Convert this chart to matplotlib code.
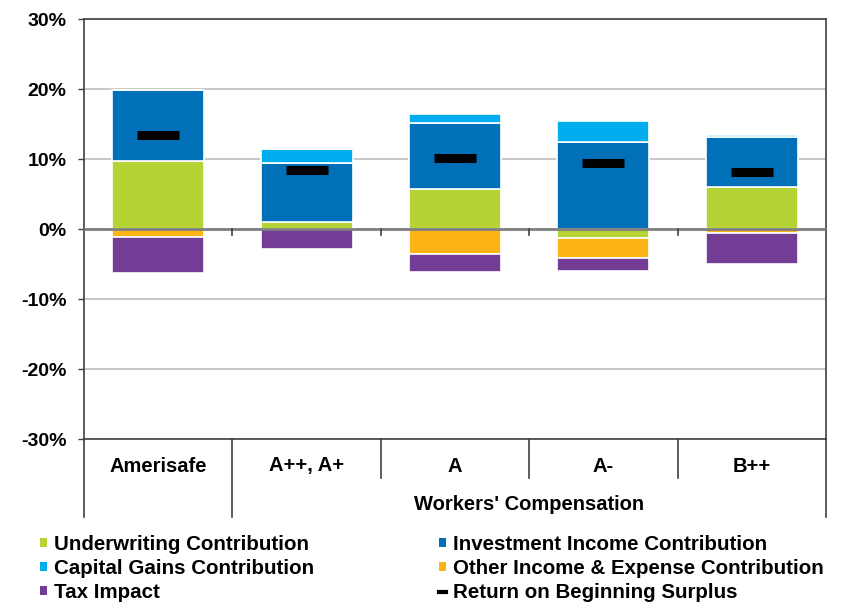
import matplotlib
matplotlib.use("Agg")
import matplotlib.pyplot as plt
import numpy as np
from matplotlib.patches import Patch
from matplotlib.lines import Line2D
import matplotlib.transforms as mtransforms

plt.rcParams['font.family'] = ['Liberation Sans', 'DejaVu Sans']
plt.rcParams['font.weight'] = 'bold'

categories = ["Amerisafe", "A++, A+", "A", "A-", "B++"]
group_label = "Workers' Compensation"

underwriting = [9.7, 1.0, 5.7, -1.3, 6.0]
investment = [10.1, 8.4, 9.5, 12.5, 7.2]
capital_gains = [0.0, 2.0, 1.3, 2.9, 0.2]
other_income = [-1.1, 0.0, -3.5, -2.8, -0.5]
tax_impact = [-5.2, -2.85, -2.7, -1.9, -4.5]
return_surplus = [13.4, 8.5, 10.2, 9.4, 8.2]

yticks = [-30, -20, -10, 0, 10, 20, 30]
ytick_labels = ["-30%", "-20%", "-10%", "0%", "10%", "20%", "30%"]

series = [
    ("Underwriting Contribution", underwriting, "#B5D334"),
    ("Investment Income Contribution", investment, "#0070B9"),
    ("Capital Gains Contribution", capital_gains, "#00AEEF"),
    ("Other Income & Expense Contribution", other_income, "#FDB515"),
    ("Tax Impact", tax_impact, "#743D95"),
]

W, H = 842, 604
fig = plt.figure(figsize=(W / 100, H / 100), dpi=100)
ax = fig.add_axes([84 / W, (H - 439) / H, 742 / W, 420 / H])

x = np.arange(len(categories))
pos_bottom = np.zeros(len(categories))
neg_bottom = np.zeros(len(categories))
for name, vals, col in series:
    vals = np.array(vals, dtype=float)
    bottoms = np.where(vals >= 0, pos_bottom, neg_bottom)
    ax.bar(x, vals, bottom=bottoms, width=0.62, color=col,
           edgecolor="white", linewidth=1.2, zorder=3)
    pos_bottom = pos_bottom + np.where(vals > 0, vals, 0)
    neg_bottom = neg_bottom + np.where(vals < 0, vals, 0)

ax.plot(x, return_surplus, linestyle="none", marker="_", markersize=30,
        markeredgewidth=6.5, color="black", zorder=5)

ax.set_xlim(-0.5, len(categories) - 0.5)
ax.set_ylim(-30, 30)
ax.set_yticks(yticks)
ax.set_yticklabels(ytick_labels, fontsize=14, fontweight="bold")
ax.tick_params(axis="y", length=4.5, width=1, color="#404040", pad=8)
ax.set_xticks([])
ax.grid(axis="y", color="#BFBFBF", linewidth=1.2, zorder=0)
ax.axhline(0, color="#7F7F7F", linewidth=2, zorder=4)
for sp in ax.spines.values():
    sp.set_color("#404040")
    sp.set_linewidth(1.2)

# category tick marks on zero line
for b in np.arange(0.5, len(categories) - 0.5, 1.0):
    ax.plot([b, b], [0, -0.8], color="#404040", linewidth=1.2, zorder=4)

# category labels and group separators
trans = mtransforms.blended_transform_factory(ax.transData, ax.transAxes)
short_end = (439 - 478) / 420
long_end = (439 - 517) / 420
for i, c in enumerate(categories):
    ax.text(i, (439 - 466) / 420, c, transform=trans, ha="center", va="center",
            fontsize=14.5, fontweight="bold")
ax.text(np.mean(x[1:]), (439 - 504) / 420, group_label, transform=trans,
        ha="center", va="center", fontsize=14.5, fontweight="bold")
for b in [-0.5, 0.5, len(categories) - 0.5]:
    ax.plot([b, b], [0, long_end], transform=trans, color="#404040",
            linewidth=1.2, clip_on=False)
for b in np.arange(1.5, len(categories) - 0.5, 1.0):
    ax.plot([b, b], [0, short_end], transform=trans, color="#404040",
            linewidth=1.2, clip_on=False)

# legend
handles = {name: Patch(facecolor=col, edgecolor="none") for name, _, col in series}
ret_handle = Line2D([0], [0], color="black", linewidth=3)
order = [
    ("Underwriting Contribution", handles["Underwriting Contribution"]),
    ("Capital Gains Contribution", handles["Capital Gains Contribution"]),
    ("Tax Impact", handles["Tax Impact"]),
    ("Investment Income Contribution", handles["Investment Income Contribution"]),
    ("Other Income & Expense Contribution", handles["Other Income & Expense Contribution"]),
    ("Return on Beginning Surplus", ret_handle),
]
leg = fig.legend([h for _, h in order], [n for n, _ in order], ncol=2,
                 loc="upper left", bbox_to_anchor=(40 / W, 1 - 535 / H),
                 frameon=False, prop={"size": 14.8, "weight": "bold"},
                 handlelength=0.35, handleheight=0.35, handletextpad=0.35,
                 columnspacing=6.05, labelspacing=0.24, borderpad=0, borderaxespad=0)

fig.savefig("out.png", dpi=100)
